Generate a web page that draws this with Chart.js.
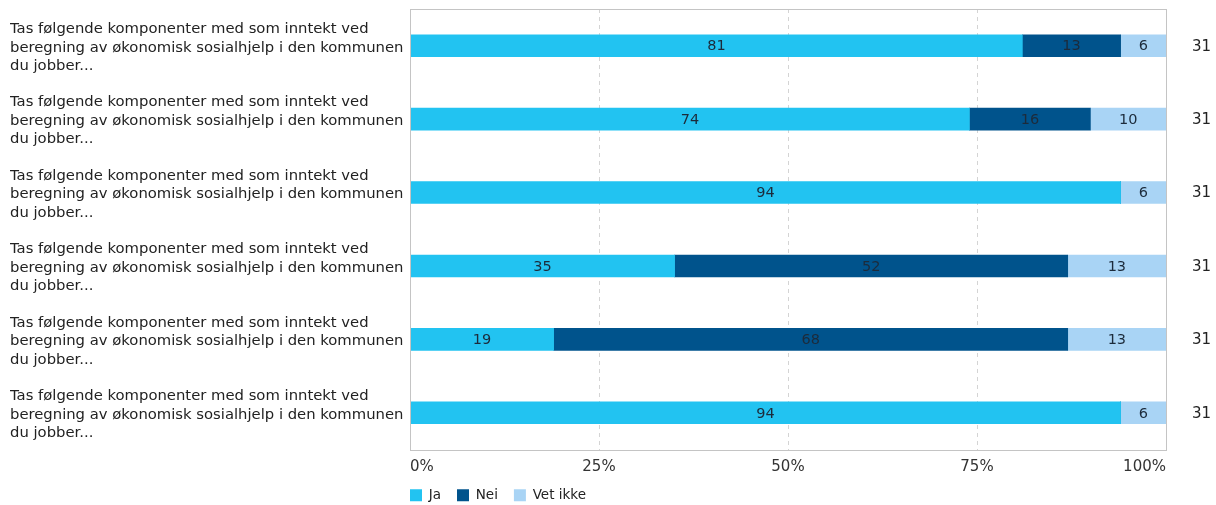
<!DOCTYPE html>
<html>
<head>
<meta charset="utf-8">
<script src="https://cdn.jsdelivr.net/npm/chart.js@4.4.1/dist/chart.umd.min.js"></script>
<style>
  html, body { margin: 0; padding: 0; background: #fff; }
  #wrap { width: 1216px; height: 505px; }
</style>
</head>
<body>
<div id="wrap"><canvas id="chart" width="1216" height="505"></canvas></div>
<script>
const questionLabel = ['Tas følgende komponenter med som inntekt ved', 'beregning av økonomisk sosialhjelp i den kommunen', 'du jobber...'];
const categories = [questionLabel, questionLabel, questionLabel, questionLabel, questionLabel, questionLabel];
const jaValues = [81, 74, 94, 35, 19, 94];
const neiValues = [13, 16, 0, 52, 68, 0];
const vetIkkeValues = [6, 10, 6, 13, 13, 6];
const nValues = ['31', '31', '31', '31', '31', '31'];
const xTicks = [0, 25, 50, 75, 100];

const FONT = 'DejaVu Sans, Verdana, sans-serif';

// frame around plot area + pull legend to the plot's left edge
const framePlugin = {
    id: 'frame',
    beforeDraw(chart) {
        const lg = chart.legend;
        if (lg) lg.left = chart.chartArea.left - lg.options.labels.padding;
    },
    afterDatasetsDraw(chart) {
        const { ctx, chartArea: a } = chart;
        ctx.save();
        ctx.strokeStyle = '#c4c4c4';
        ctx.lineWidth = 1;
        ctx.strokeRect(Math.round(a.left) + 0.5, Math.round(a.top) + 0.5,
            Math.round(a.right - a.left), Math.round(a.bottom - a.top));
        ctx.restore();
    }
};

// values written inside each bar segment
const valueLabels = {
    id: 'valueLabels',
    afterDatasetsDraw(chart) {
        const ctx = chart.ctx;
        ctx.save();
        ctx.font = '14.5px ' + FONT;
        ctx.fillStyle = '#1c2b3b';
        ctx.textAlign = 'center';
        ctx.textBaseline = 'middle';
        chart.data.datasets.forEach((ds, i) => {
            const meta = chart.getDatasetMeta(i);
            meta.data.forEach((bar, j) => {
                const v = ds.data[j];
                if (!v) return;
                ctx.fillText(String(v), (bar.x + bar.base) / 2, bar.y + 1);
            });
        });
        ctx.restore();
    }
};

const noPad = (scale) => { scale.paddingTop = 0; scale.paddingBottom = 0; };

new Chart(document.getElementById('chart'), {
    type: 'bar',
    data: {
        labels: categories,
        datasets: [
            { label: 'Ja', data: jaValues, backgroundColor: '#22c3f1' },
            { label: 'Nei', data: neiValues, backgroundColor: '#00538c' },
            { label: 'Vet ikke', data: vetIkkeValues, backgroundColor: '#a9d4f5' }
        ]
    },
    options: {
        indexAxis: 'y',
        responsive: false,
        animation: false,
        events: [],
        layout: { padding: { left: 10, top: 9, right: 0, bottom: -7 } },
        datasets: { bar: { barThickness: 22, borderWidth: 0 } },
        scales: {
            x: {
                stacked: true,
                min: 0,
                max: 100,
                afterBuildTicks: (scale) => { scale.ticks = xTicks.map(v => ({ value: v })); },
                afterFit: (scale) => { scale.height = 23; },
                ticks: {
                    align: 'inner',
                    padding: 9,
                    color: '#333',
                    font: { family: FONT, size: 15 },
                    callback: (v) => v + '%'
                },
                grid: {
                    color: (c) => (c.tick && (c.tick.value === 0 || c.tick.value === 100)) ? 'rgba(0,0,0,0)' : '#d4d4d4',
                    drawTicks: false
                },
                border: { display: false, dash: [4, 4] }
            },
            y: {
                stacked: true,
                afterFit: (scale) => { scale.width = 400; noPad(scale); },
                ticks: {
                    crossAlign: 'far',
                    padding: 4,
                    labelOffset: 2,
                    color: '#222',
                    font: { family: FONT, size: 14.8, lineHeight: 1.25 }
                },
                grid: { display: false },
                border: { display: false }
            },
            n: {
                type: 'category',
                position: 'right',
                labels: nValues,
                afterFit: (scale) => { scale.width = 50; noPad(scale); },
                ticks: {
                    crossAlign: 'near',
                    padding: 18,
                    labelOffset: 1,
                    color: '#222',
                    font: { family: FONT, size: 15 }
                },
                grid: { display: false },
                border: { display: false }
            }
        },
        plugins: {
            legend: {
                position: 'bottom',
                align: 'start',
                fullSize: false,
                labels: {
                    boxWidth: 12,
                    boxHeight: 12,
                    padding: 16,
                    color: '#222',
                    font: { family: FONT, size: 13.5 }
                }
            },
            tooltip: { enabled: false }
        }
    },
    plugins: [framePlugin, valueLabels]
});
</script>
</body>
</html>
